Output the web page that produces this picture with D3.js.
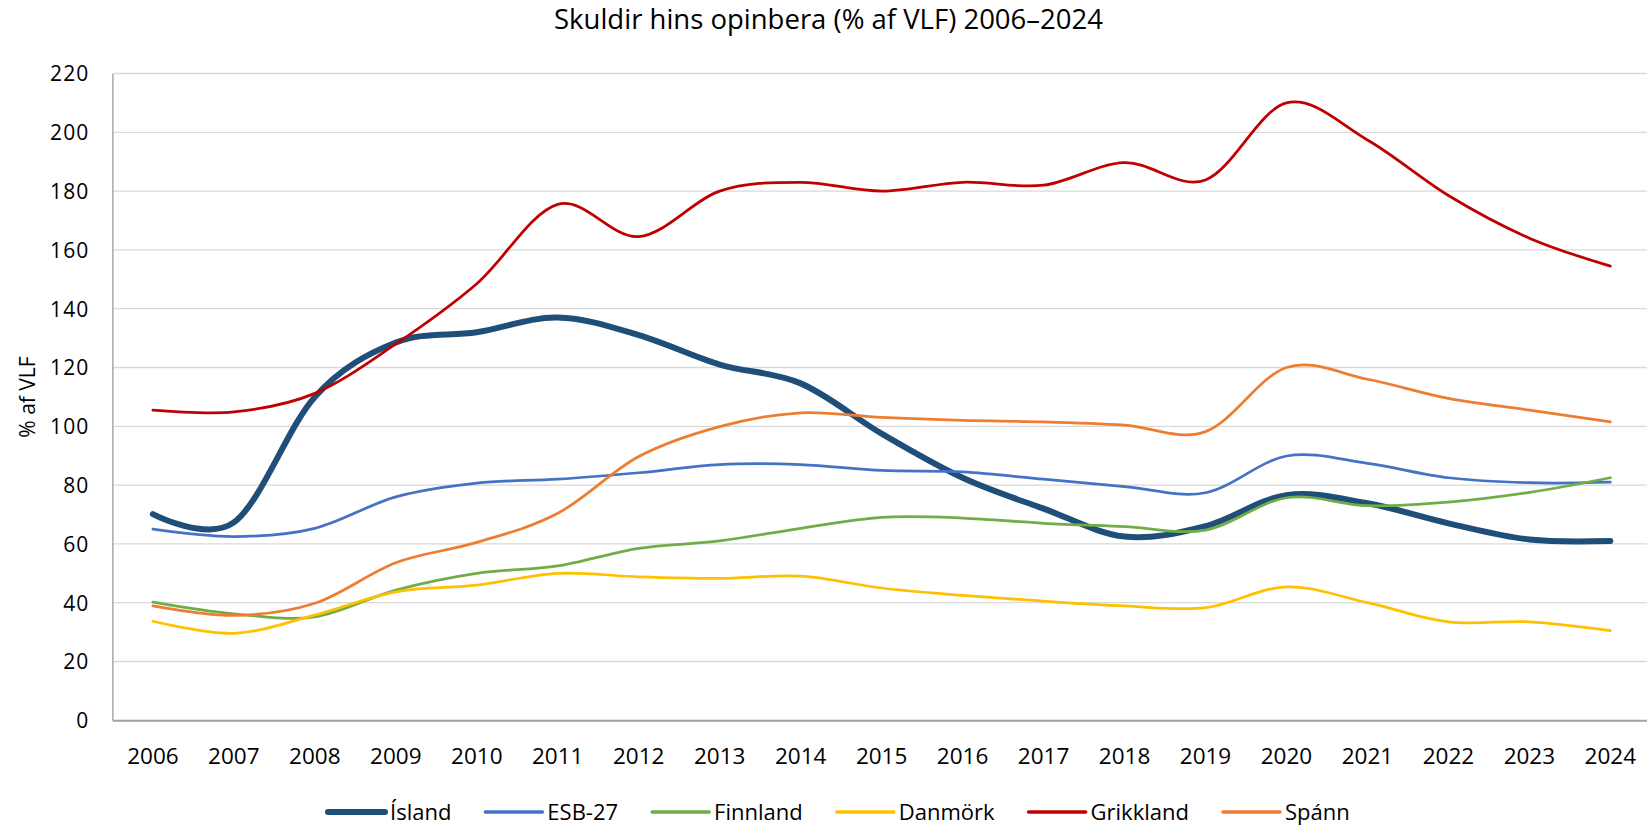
<!DOCTYPE html>
<html>
<head>
<meta charset="utf-8">
<script src="https://cdn.jsdelivr.net/npm/d3@7"></script>
<style>
  html, body { margin: 0; padding: 0; background: #fff; }
  svg { display: block; }
  text { font-family: "Open Sans", "Noto Sans", sans-serif; fill: #000; }
</style>
</head>
<body>
<svg id="chart" width="1647" height="826"></svg>
<script>
const years = [2006,2007,2008,2009,2010,2011,2012,2013,2014,2015,2016,2017,2018,2019,2020,2021,2022,2023,2024];
const yTicks = [0,20,40,60,80,100,120,140,160,180,200,220];

const island    = [70.1, 67.3, 110, 128.5, 132, 137, 131, 121, 114.6, 97.5, 82.5, 72, 62.5, 66, 76.6, 73.8, 67, 61.5, 61];
const esb27     = [65, 62.5, 65.3, 76, 80.7, 82, 84.2, 87, 87, 85, 84.5, 82, 79.5, 77.4, 89.9, 87.4, 82.5, 80.8, 81];
const finnland  = [40.2, 36.2, 35.2, 44.3, 50, 52.5, 58.5, 61, 65.3, 69, 68.8, 67, 65.9, 64.7, 75.7, 73, 74.2, 77.5, 82.5];
const danmork   = [33.7, 29.6, 35.8, 43.7, 46, 50, 48.8, 48.3, 49, 45, 42.5, 40.5, 38.9, 38.3, 45.4, 40, 33.5, 33.5, 30.5];
const grikkland = [105.5, 104.9, 111.2, 128, 148.5, 175.5, 164.5, 180, 183, 180, 183, 182, 189.7, 183.8, 210, 197.4, 178.5, 164, 154.5];
const spann     = [38.9, 35.7, 39.8, 53.6, 60.5, 70.4, 89.7, 99.9, 104.6, 103, 102, 101.5, 100.4, 98.2, 120, 116, 109.5, 105.5, 101.5];

const seriesNames = ["Ísland", "ESB-27", "Finnland", "Danmörk", "Grikkland", "Spánn"];
const seriesValues = [island, esb27, finnland, danmork, grikkland, spann];
const seriesColors = ["#1F4E79", "#4472C4", "#70AD47", "#FFC000", "#C00000", "#ED7D31"];
const seriesWidths = [6, 2.75, 2.75, 2.75, 2.75, 2.75];

const svg = d3.select("#chart");
const plotLeft = 112.4, plotTop = 73.5, plotBottom = 720.3;
const band = 80.97;
const plotRight = plotLeft + band * years.length;

const x = d3.scaleBand().domain(years).range([plotLeft, plotRight]).padding(0);
const y = d3.scaleLinear().domain([0, 220]).range([plotBottom, plotTop]);
const cx = d => x(d) + x.bandwidth() / 2;

// gridlines
svg.append("g").selectAll("line").data(yTicks.filter(t => t > 0)).join("line")
  .attr("x1", plotLeft).attr("x2", 1647)
  .attr("y1", d => y(d)).attr("y2", d => y(d))
  .attr("stroke", "#D9D9D9").attr("stroke-width", 1.3);

// y axis
const yAxis = d3.axisLeft(y).tickValues(yTicks).tickSize(0).tickPadding(0);
const gy = svg.append("g").attr("transform", `translate(${plotLeft},0)`).call(yAxis);
gy.select(".domain").attr("stroke", "#A6A6A6").attr("stroke-width", 1.5);
gy.selectAll("text").attr("x", -23).attr("dy", "0.35em")
  .style("font-size", "21px").style("letter-spacing", "1.1px").style("font-family", '"Open Sans", sans-serif');

// x axis
const xAxis = d3.axisBottom(x).tickSize(0).tickPadding(0);
const gx = svg.append("g").attr("transform", `translate(0,${plotBottom})`).call(xAxis);
gx.select(".domain").attr("stroke", "#A0A0A0").attr("stroke-width", 2);
gx.selectAll("text").attr("y", 44).attr("dy", 0)
  .style("font-size", "22.5px").style("font-family", '"Open Sans", sans-serif');

// lines
const line = d3.line().x((d, i) => cx(years[i])).y(d => y(d)).curve(d3.curveCardinal.tension(0));
const lg = svg.append("g");
seriesValues.forEach((vals, k) => {
  lg.append("path").datum(vals)
    .attr("d", line)
    .attr("fill", "none")
    .attr("stroke", seriesColors[k])
    .attr("stroke-width", seriesWidths[k])
    .attr("stroke-linecap", "round")
    .attr("stroke-linejoin", "round");
});

// title
svg.append("text").attr("x", 828.5).attr("y", 29).attr("text-anchor", "middle")
  .style("font-size", "27.5px").text("Skuldir hins opinbera (% af VLF) 2006–2024");

// y axis title
svg.append("text").attr("transform", "translate(34.5,397) rotate(-90)").attr("text-anchor", "middle")
  .style("font-size", "21px").text("% af VLF");

// legend
const leg = svg.append("g");
let lx = 328;
seriesNames.forEach((name, k) => {
  leg.append("line").attr("x1", lx).attr("x2", lx + 57).attr("y1", 812).attr("y2", 812)
    .attr("stroke", seriesColors[k]).attr("stroke-width", seriesWidths[k] === 6 ? 6 : 3.5)
    .attr("stroke-linecap", "round");
  const t = leg.append("text").attr("x", lx + 62).attr("y", 819.5)
    .style("font-size", "22px").text(name);
  const w = t.node().getComputedTextLength();
  lx = lx + 62 + w + 34;
});
</script>
</body>
</html>
